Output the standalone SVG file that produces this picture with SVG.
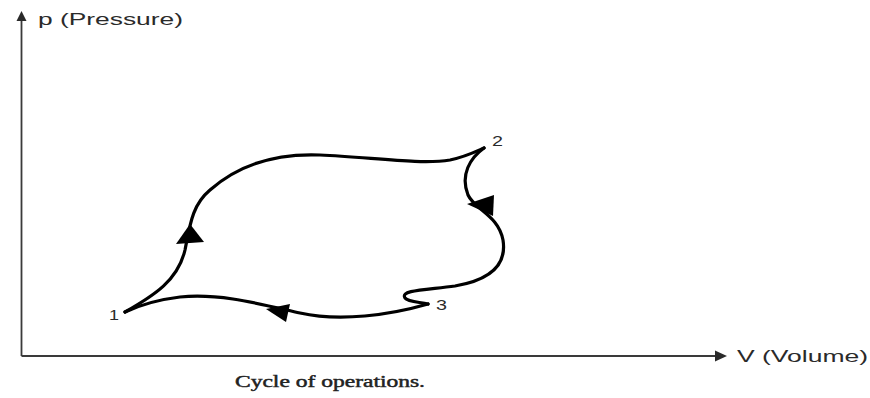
<svg xmlns="http://www.w3.org/2000/svg" width="870" height="398" viewBox="0 0 870 398">
  <style>
    .axis { stroke: #3a3a3a; stroke-width: 1.8; fill: none; }
    .axis-head { fill: #2a2a2a; }
    .cycle { stroke: #000; stroke-width: 3.2; fill: none; stroke-linecap: round; }
    .head { fill: #000; }
    .lbl { font-family: "Liberation Sans", Arial, sans-serif; fill: #2a2a2a; }
    .cap { font-family: "Liberation Serif", "Times New Roman", serif; fill: #222; stroke: #222; stroke-width: 0.45; }
  </style>
  <rect width="870" height="398" fill="#fff"/>

  <!-- p-V axes -->
  <g id="axes">
    <path class="axis" d="M21.5,356 L21.5,18 M21.5,356 L718,356"/>
    <polygon class="axis-head" points="21.5,11 16.5,21 26.5,21"/>
    <polygon class="axis-head" points="727,356 715,350.5 715,361.5"/>
    <text class="lbl" x="38" y="25" font-size="16" textLength="145" lengthAdjust="spacingAndGlyphs">p (Pressure)</text>
    <text class="lbl" x="737" y="362" font-size="16" textLength="131" lengthAdjust="spacingAndGlyphs">V (Volume)</text>
  </g>

  <!-- state points -->
  <g id="state1">
    <text class="lbl" x="109" y="320" font-size="14" textLength="10" lengthAdjust="spacingAndGlyphs">1</text>
  </g>
  <g id="state2">
    <text class="lbl" x="492" y="146" font-size="14" textLength="11" lengthAdjust="spacingAndGlyphs">2</text>
  </g>
  <g id="state3">
    <text class="lbl" x="436" y="310" font-size="14" textLength="11" lengthAdjust="spacingAndGlyphs">3</text>
  </g>

  <!-- process paths of the cycle -->
  <g id="connectors">
    <path class="cycle" d="M125,312 C155,295 178,280 185,250 C190,225 192,205 210,190 C235,168 270,153 320,155 C370,157 420,165 450,160 C465,157 475,152 484,148"/>
    <path class="cycle" d="M484,148 C470,158 460,175 468,195 C475,210 498,215 503,240 C507,265 490,280 455,286 C425,290 400,290 405,298 C408,302 420,302 428,304"/>
    <path class="cycle" d="M428,304 C390,315 340,322 300,313 C260,304 220,293 180,297 C155,300 140,305 125,312"/>
    <polygon class="head" points="190,224 176,244 204,242"/>
    <polygon class="head" points="493,216 467,204 494,195"/>
    <polygon class="head" points="266,309 290,304 286,322"/>
  </g>

  <text class="cap" x="235" y="387" font-size="16" textLength="190" lengthAdjust="spacingAndGlyphs">Cycle of operations.</text>
</svg>
